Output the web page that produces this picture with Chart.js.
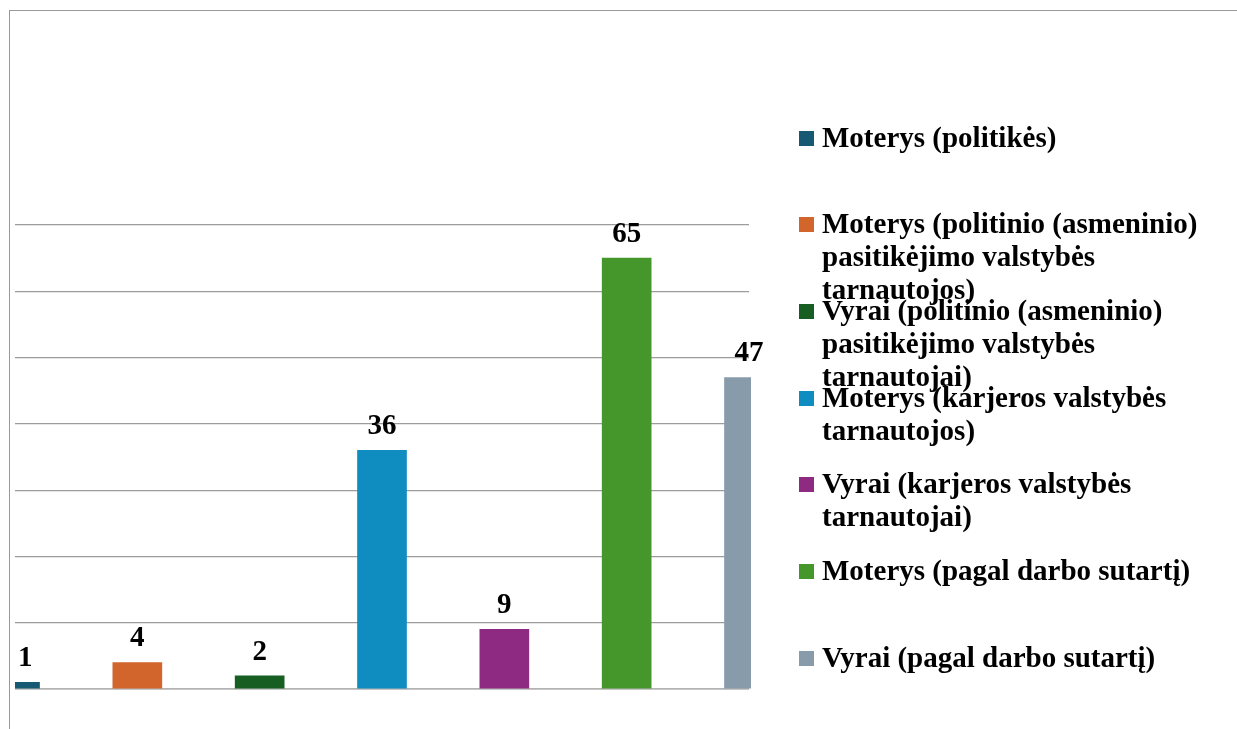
<!DOCTYPE html>
<html>
<head>
<meta charset="utf-8">
<script src="https://cdn.jsdelivr.net/npm/chart.js@4"></script>
<style>
  body { margin: 0; background: #fff; }
  #wrap { position: relative; width: 1237px; height: 729px; overflow: hidden; }
  #frame { position: absolute; left: 9px; top: 10px; right: -5px; bottom: -5px;
           border-top: 1.5px solid #999; border-left: 1.5px solid #999; }
  #chartCanvas { position: absolute; left: 0; top: 0; }
  #legendContainer { position: absolute; left: 799px; top: 0; }
  .legend-item { position: absolute; left: 0; width: 430px; height: 87px;
                 font: bold 29px "Liberation Serif", "Times New Roman", serif;
                 line-height: 33px; color: #000; }
  .legend-color { position: absolute; left: 0; top: 10px; width: 15px; height: 15px; }
  .legend-text { position: absolute; left: 23px; top: 0; width: 395px; }
</style>
</head>
<body>
<div id="wrap">
  <div id="frame"></div>
  <canvas id="chartCanvas" width="1237" height="729"></canvas>
  <div id="legendContainer"></div>
</div>
<script>
  // Chart data
  var categories = [
    'Moterys (politikės)',
    'Moterys (politinio (asmeninio) pasitikėjimo valstybės tarnautojos)',
    'Vyrai (politinio (asmeninio) pasitikėjimo valstybės tarnautojai)',
    'Moterys (karjeros valstybės tarnautojos)',
    'Vyrai (karjeros valstybės tarnautojai)',
    'Moterys (pagal darbo sutartį)',
    'Vyrai (pagal darbo sutartį)'
  ];
  var values = [1, 4, 2, 36, 9, 65, 47];
  var barColors = ['#175873', '#D2652C', '#175E22', '#0F8CC0', '#8E2A82', '#45962B', '#889BAB'];
  var yTicks = [0, 10, 20, 30, 40, 50, 60, 70];

  // Plugin to write the value above each bar
  var valueLabels = {
    id: 'valueLabels',
    afterDatasetsDraw: function (chart) {
      var ctx = chart.ctx;
      var area = chart.chartArea;
      var meta = chart.getDatasetMeta(0);
      ctx.save();
      ctx.font = 'bold 29px "Liberation Serif", "Times New Roman", serif';
      ctx.fillStyle = '#000';
      ctx.textAlign = 'center';
      ctx.textBaseline = 'alphabetic';
      meta.data.forEach(function (bar, i) {
        var text = String(values[i]);
        var w = ctx.measureText(text).width;
        var x = Math.max(bar.x, area.left + w / 2 + 3); // keep first label inside
        ctx.fillText(text, x, bar.y - 16);
      });
      ctx.restore();
    }
  };

  var ctx = document.getElementById('chartCanvas').getContext('2d');
  var chart = new Chart(ctx, {
    type: 'bar',
    data: {
      labels: categories,
      datasets: [{
        data: values,
        backgroundColor: barColors,
        barThickness: 49,
        clip: { left: 0, top: 0, right: 2, bottom: 0 }
      }]
    },
    options: {
      responsive: false,
      animation: false,
      layout: { padding: { left: 15, right: 488, top: 225, bottom: 40 } },
      plugins: { legend: { display: false }, tooltip: { enabled: false } },
      scales: {
        x: { display: false, offset: false, grid: { offset: false } },
        y: {
          min: yTicks[0],
          max: yTicks[yTicks.length - 1],
          afterBuildTicks: function (scale) {
            scale.ticks = yTicks.map(function (v) { return { value: v }; });
          },
          ticks: { display: false },
          border: { display: false },
          grid: {
            color: function (c) { return c.tick && c.tick.value === 0 ? '#b3b3b3' : '#9c9c9c'; },
            lineWidth: function (c) { return c.tick && c.tick.value === 0 ? 1.8 : 1.2; },
            drawTicks: false
          }
        }
      }
    },
    plugins: [valueLabels]
  });

  // Display legend
  var legendContainer = document.getElementById('legendContainer');
  categories.forEach(function (label, index) {
    var legendItem = document.createElement('div');
    legendItem.classList.add('legend-item');
    legendItem.style.top = (120.7 + index * 86.67) + 'px';
    var legendColor = document.createElement('div');
    legendColor.classList.add('legend-color');
    legendColor.style.backgroundColor = barColors[index];
    var legendText = document.createElement('div');
    legendText.classList.add('legend-text');
    legendText.textContent = label;
    legendItem.appendChild(legendColor);
    legendItem.appendChild(legendText);
    legendContainer.appendChild(legendItem);
  });
</script>
</body>
</html>
